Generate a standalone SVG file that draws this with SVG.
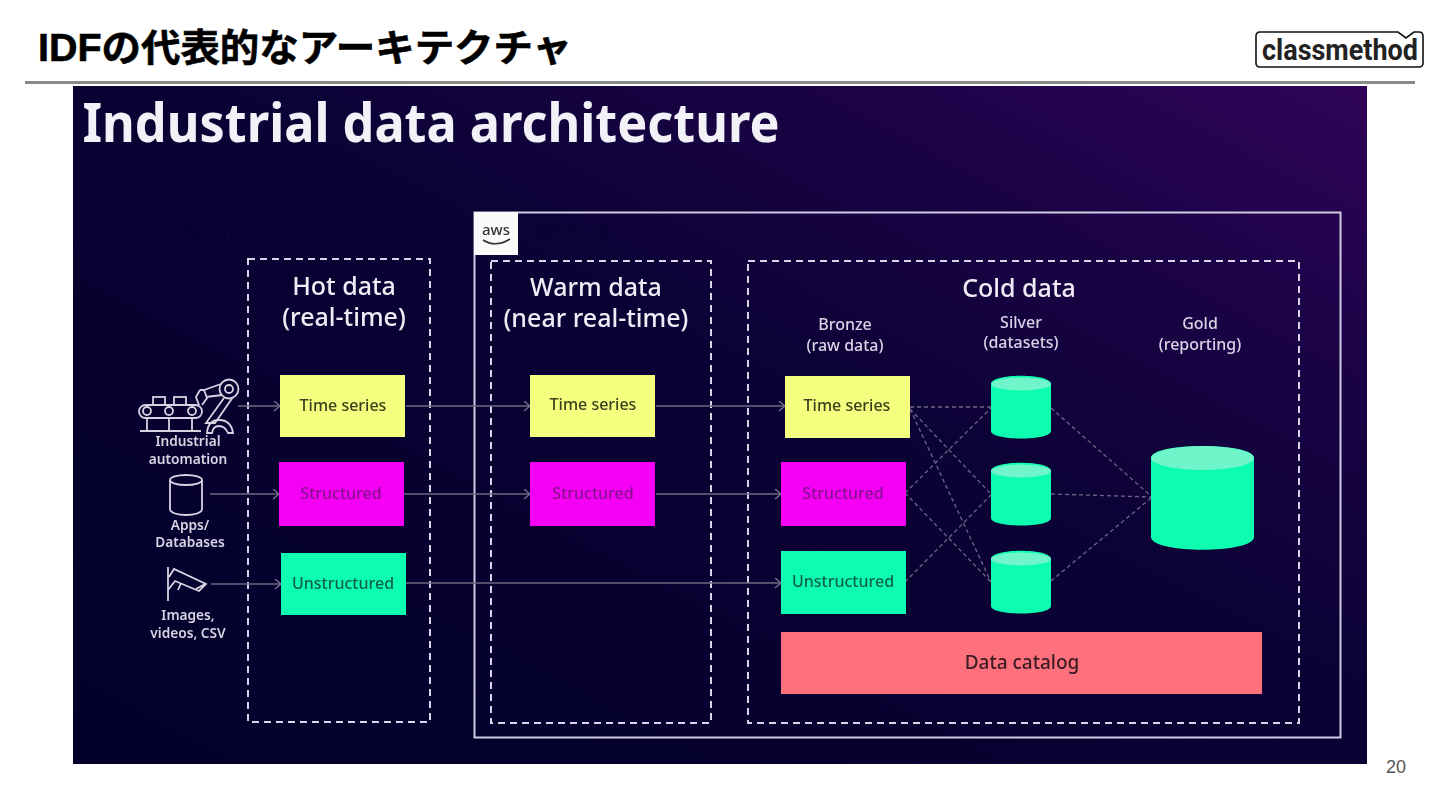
<svg xmlns="http://www.w3.org/2000/svg" width="1440" height="810" viewBox="0 0 1440 810">
<style>
text{font-family:"Noto Sans","Open Sans","Noto Sans CJK JP",sans-serif;text-anchor:middle}
.dash{fill:none;stroke:#d8d4ea;stroke-width:2;stroke-dasharray:7 5}
.h{fill:#efecf6;font-size:25px;font-weight:500}
.s{fill:#d9d3e8;font-size:16px;font-weight:500}
.src{fill:#d6d3e2;font-size:13.7px;font-weight:600}
.b{font-size:16px;font-weight:500}
.ln{stroke:#6b6780;stroke-width:1.5;fill:none}
.dl{stroke:#6f6584;stroke-width:1.3;fill:none;stroke-dasharray:4 3}
.ic{fill:none;stroke:#d6d3e2;stroke-width:1.8}
.cyl{fill:#0ffdb0}
.top{fill:#6ff5cb}
</style>
<defs>
<linearGradient id="bg" x1="0" y1="1" x2="1" y2="0">
<stop offset="0" stop-color="#02002a"/><stop offset="0.55" stop-color="#0a0234"/><stop offset="0.8" stop-color="#1c0347"/><stop offset="1" stop-color="#300458"/>
</linearGradient>
<filter id="soft" filterUnits="userSpaceOnUse" x="73" y="86" width="1294" height="678"><feGaussianBlur stdDeviation="0.55"/></filter>
<marker id="a" markerWidth="8" markerHeight="12" refX="7" refY="5" orient="auto" markerUnits="userSpaceOnUse"><path d="M1 0L7 5L1 10" fill="none" stroke="#77738c" stroke-width="1.4"/></marker>
</defs>
<rect width="1440" height="810" fill="#fff"/>
<g id="header">
<text x="38" y="61" style="font-family:'Liberation Sans','Noto Sans CJK JP',sans-serif;text-anchor:start;font-size:38px;font-weight:700;fill:#000;stroke:#000;stroke-width:0.6" textLength="534" lengthAdjust="spacingAndGlyphs">IDFの代表的なアーキテクチャ</text>
<rect x="25" y="81" width="1390" height="3" fill="#8a8a8a"/>
</g>
<g id="logo">
<path d="M1262 32H1398L1406 38L1414 32H1419Q1423 32 1423 36V63Q1423 67 1419 67H1260Q1256 67 1256 63V36Q1256 32 1260 32Z" fill="#fff" stroke="#111" stroke-width="1.6"/>
<text x="1340" y="60" style="font-family:Roboto,'Liberation Sans',sans-serif;font-size:29px;font-weight:700;fill:#222" textLength="156" lengthAdjust="spacingAndGlyphs">classmethod</text>
</g>
<text id="page" x="1396" y="773" style="font-family:'Liberation Sans',sans-serif;font-size:18px;fill:#555">20</text>
<rect id="panel" x="73" y="86" width="1294" height="678" fill="url(#bg)"/>
<g id="slide" filter="url(#soft)">
<text id="slide-title" x="431" y="142" style="font-size:53px;font-weight:700;fill:#f3f1f8" textLength="697" lengthAdjust="spacingAndGlyphs">Industrial data architecture</text>
<text x="210" y="236" style="font-size:15px;fill:#04012a">Factory</text>
<g id="aws-frame">
<rect x="474.500" y="212.500" width="866" height="525" fill="none" stroke="#cfcbe0" stroke-width="2"/>
<rect x="474" y="212" width="44" height="43" fill="#fafafa"/>
<text x="496" y="235" style="font-size:15px;font-weight:500;fill:#333">aws</text>
<path d="M483 240Q496 248 510 239" fill="none" stroke="#333" stroke-width="1.5"/>
<text x="571" y="236" style="font-size:15px;fill:#0a0234">AWS Cloud</text>
</g>
<g id="hot"><rect class="dash" x="248" y="259" width="182" height="463"/><text class="h" x="344" y="295">Hot data</text><text class="h" x="344" y="326">(real-time)</text></g>
<g id="warm"><rect class="dash" x="491" y="261" width="220" height="462"/><text class="h" x="596" y="296">Warm data</text><text class="h" x="596" y="327">(near real-time)</text></g>
<g id="cold"><rect class="dash" x="748" y="261" width="551" height="462"/><text class="h" x="1019" y="297">Cold data</text>
<text class="s" x="845" y="330">Bronze</text><text class="s" x="845" y="351">(raw data)</text>
<text class="s" x="1021" y="328">Silver</text><text class="s" x="1021" y="348">(datasets)</text>
<text class="s" x="1200" y="329">Gold</text><text class="s" x="1200" y="350">(reporting)</text></g>
<g id="connectors">
<path class="ln" marker-end="url(#a)" d="M238 406H280"/>
<path class="ln" marker-end="url(#a)" d="M210 494H279"/>
<path class="ln" marker-end="url(#a)" d="M211 584H281"/>
<path class="ln" marker-end="url(#a)" d="M406 406H530"/>
<path class="ln" marker-end="url(#a)" d="M404 494H530"/>
<path class="ln" marker-end="url(#a)" d="M656 406H785"/>
<path class="ln" marker-end="url(#a)" d="M656 494H781"/>
<path class="ln" marker-end="url(#a)" d="M406 583H781"/>
<path class="dl" d="M910 407H991M910 409L991 494M910 409L991 582M905 493L991 408M905 493L991 582M905 582L991 495"/>
<path class="dl" d="M1051 408L1151 496M1051 494L1151 497M1051 581L1151 498"/>
</g>
<g id="src-auto">
<g class="ic"><circle cx="229" cy="389" r="9.500"/><circle cx="229" cy="389" r="4"/>
<path d="M221 384L204 390M222 395L206 397M200 390L204 390L207 398L202 405M200 390L196 397L199 405"/>
<path d="M224 398L206 423H215L233 397"/>
<path d="M207 433Q208 420 219 420Q231 420 233 433H228Q225 426 219 426Q213 426 212 433Z"/>
<path d="M140 431H201M147 418V431M169 418V431M192 418V431"/>
<rect x="139" y="405" width="63" height="13" rx="6.500"/>
<circle cx="147" cy="411" r="4"/><circle cx="169" cy="411" r="4"/><circle cx="192" cy="411" r="4"/>
<rect x="153" y="397" width="12" height="8"/><rect x="174" y="397" width="12" height="8"/></g>
<text class="src" x="188" y="446">Industrial</text><text class="src" x="188" y="464">automation</text>
</g>
<g id="src-db">
<path class="ic" d="M170 480V509C170 517 202 517 202 509V480"/><ellipse class="ic" cx="186" cy="480" rx="16" ry="5"/>
<text class="src" x="190" y="530">Apps/</text><text class="src" x="190" y="547">Databases</text>
</g>
<g id="src-cam">
<path class="ic" d="M168 567V601M169 577L174 569L206 584L199 591L175 581L168 590M178 590L181 583M196 589L205 584"/>
<text class="src" x="188" y="620">Images,</text><text class="src" x="188" y="638">videos, CSV</text>
</g>
<g id="hot-ts"><rect x="280" y="375" width="125" height="62" fill="#f4ff80"/><text class="b" x="343" y="411" fill="#37401a">Time series</text></g>
<g id="hot-st"><rect x="279" y="462" width="125" height="64" fill="#f500f5"/><text class="b" x="341" y="499" fill="#8a108f">Structured</text></g>
<g id="hot-un"><rect x="281" y="553" width="125" height="62" fill="#0dfdb0"/><text class="b" x="343" y="589" fill="#0c5f50">Unstructured</text></g>
<g id="warm-ts"><rect x="530" y="375" width="125" height="62" fill="#f4ff80"/><text class="b" x="593" y="410" fill="#37401a">Time series</text></g>
<g id="warm-st"><rect x="530" y="462" width="125" height="64" fill="#f500f5"/><text class="b" x="593" y="499" fill="#8a108f">Structured</text></g>
<g id="cold-ts"><rect x="785" y="376" width="125" height="62" fill="#f4ff80"/><text class="b" x="847" y="411" fill="#37401a">Time series</text></g>
<g id="cold-st"><rect x="781" y="462" width="125" height="64" fill="#f500f5"/><text class="b" x="843" y="499" fill="#8a108f">Structured</text></g>
<g id="cold-un"><rect x="781" y="551" width="125" height="63" fill="#0dfdb0"/><text class="b" x="843" y="587" fill="#0c5f50">Unstructured</text></g>
<g id="silver-1"><path class="cyl" d="M991 384C991 373 1051 373 1051 384V431C1051 441 991 441 991 431Z"/><ellipse class="top" cx="1021" cy="384" rx="30" ry="6.500"/></g>
<g id="silver-2"><path class="cyl" d="M991 471C991 460 1051 460 1051 471V518C1051 528 991 528 991 518Z"/><ellipse class="top" cx="1021" cy="471" rx="30" ry="6.500"/></g>
<g id="silver-3"><path class="cyl" d="M991 559C991 548 1051 548 1051 559V606C1051 616 991 616 991 606Z"/><ellipse class="top" cx="1021" cy="559" rx="30" ry="6.500"/></g>
<g id="gold"><path class="cyl" d="M1151 458C1151 442 1254 442 1254 458V537C1254 554 1151 554 1151 537Z"/><ellipse class="top" cx="1202.500" cy="458" rx="51.500" ry="12"/></g>
<g id="catalog"><rect x="781" y="632" width="481" height="62" fill="#ff6f7d"/><text x="1022" y="669" style="font-size:19px;font-weight:500;fill:#3a1a24">Data catalog</text></g>
</g>
</svg>
